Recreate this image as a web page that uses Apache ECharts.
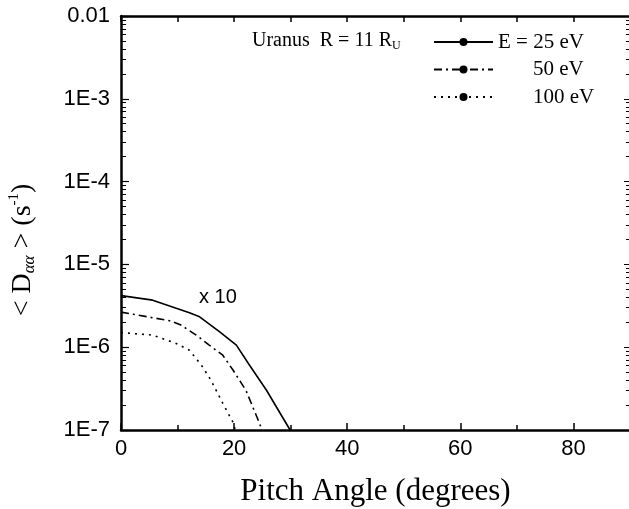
<!DOCTYPE html>
<html>
<head>
<meta charset="utf-8">
<script src="https://cdn.jsdelivr.net/npm/echarts@6/dist/echarts.min.js"></script>
<style>
  html, body { margin: 0; padding: 0; background: #fff; }
  #chart { width: 629px; height: 509px; }
</style>
</head>
<body>
<div id="chart"></div>
<script>
// pitch angle (deg) and <D_aa> (1/s)
const angles25 = [0, 5.6, 12.1, 13.9, 17.4, 20.4, 22.7, 25.7, 29.9];
const values25 = [4.2e-6, 3.7e-6, 2.6e-6, 2.33e-6, 1.54e-6, 1.06e-6, 6.1e-7, 3.04e-7, 1.0e-7];

const angles50 = [0, 8.6, 10.6, 13.3, 15.6, 18, 19.8, 22.1, 24.5, 24.9];
const values50 = [2.65e-6, 2.09e-6, 1.85e-6, 1.4e-6, 1.06e-6, 8.0e-7, 5.3e-7, 3.0e-7, 1.2e-7, 1.0e-7];

const angles100 = [0, 5.6, 9.75, 12.1, 14.2, 15.9, 18, 19.75, 20.2];
const values100 = [1.5e-6, 1.4e-6, 1.11e-6, 9.2e-7, 6.1e-7, 4.0e-7, 2.1e-7, 1.26e-7, 1.0e-7];

const seriesNames = ["E = 25 eV", "50 eV", "100 eV"];

const pairs = (xs, ys) => xs.map((x, i) => [x, ys[i]]);

const serif = "Liberation Serif";
const sans = "Liberation Sans";

const chart = echarts.init(document.getElementById("chart"));

chart.setOption({
  animation: false,
  grid: { left: 121, top: 16, width: 509, height: 414, outerBoundsMode: "none" },
  xAxis: [
    {
      type: "value",
      min: 0,
      max: 90,
      interval: 20,
      position: "bottom",
      axisLine: { onZero: false, lineStyle: { color: "#000", width: 2.5 } },
      axisTick: { inside: true, length: 7, lineStyle: { color: "#000", width: 1.5 } },
      minorTick: { show: true, splitNumber: 2, length: 5, lineStyle: { color: "#000", width: 1.5 } },
      axisLabel: { color: "#000", fontFamily: sans, fontSize: 22, margin: 8, showMaxLabel: false },
      splitLine: { show: false },
      name: "Pitch Angle (degrees)",
      nameLocation: "middle",
      nameGap: 46,
      nameTextStyle: { color: "#000", fontFamily: serif, fontSize: 31 },
    },
    {
      type: "value",
      min: 0,
      max: 90,
      interval: 10,
      position: "top",
      axisLine: { onZero: false, lineStyle: { color: "#000", width: 2.5 } },
      axisTick: { inside: true, length: 6, lineStyle: { color: "#000", width: 1.5 } },
      axisLabel: { show: false },
      splitLine: { show: false },
    },
  ],
  yAxis: [
    {
      type: "log",
      logBase: 10,
      min: 1e-7,
      max: 0.01,
      position: "left",
      splitLine: { show: false },
      axisLine: { show: true, onZero: false, lineStyle: { color: "#000", width: 2.5 } },
      axisTick: { show: true, inside: true, length: 8, lineStyle: { color: "#000", width: 1.2 } },
      minorTick: { show: true, splitNumber: 9, length: 5, lineStyle: { color: "#000", width: 1 } },
      axisLabel: {
        color: "#000",
        fontFamily: sans,
        fontSize: 22,
        margin: 11,
        formatter: (v) => (v >= 0.01 ? "0.01" : "1E" + Math.round(Math.log10(v))),
      },
      name: "{t|< D}{sub|αα}{t| > (s}{sup|-1}{t|)}",
      nameLocation: "middle",
      nameRotate: 90,
      nameGap: 83,
      nameTextStyle: {
        color: "#000",
        padding: [0, 54, 0, 0],
        rich: {
          t: { fontFamily: serif, fontSize: 28, color: "#000" },
          sub: { fontFamily: serif, fontSize: 17, fontStyle: "italic", color: "#000", verticalAlign: "bottom", padding: [14, 0, 0, 0] },
          sup: { fontFamily: serif, fontSize: 15, color: "#000", verticalAlign: "top", padding: [0, 0, 12, 0] },
        },
      },
    },
    {
      type: "log",
      logBase: 10,
      min: 1e-7,
      max: 0.01,
      position: "right",
      splitLine: { show: false },
      axisLine: { show: true, onZero: false, lineStyle: { color: "#000", width: 2.5 } },
      axisTick: { show: true, inside: true, length: 6, lineStyle: { color: "#000", width: 1 } },
      minorTick: { show: true, splitNumber: 9, length: 4, lineStyle: { color: "#000", width: 1 } },
      axisLabel: { show: false },
    },
  ],
  legend: {
    left: 433,
    top: 31,
    padding: 0,
    orient: "vertical",
    itemWidth: 59,
    itemHeight: 10,
    itemGap: 5.5,
    selectedMode: false,
    data: seriesNames,
    formatter: (n) => (n.startsWith("E") ? n : "{pad|}" + n),
    textStyle: {
      color: "#000",
      fontFamily: serif,
      fontSize: 21,
      lineHeight: 22,
      rich: { pad: { width: 35 } },
    },
  },
  graphic: [
    {
      type: "text",
      left: 199,
      top: 287,
      style: { text: "x 10", font: "20px " + sans, fill: "#000" },
    },
    {
      type: "text",
      left: 252,
      top: 31,
      style: {
        text: "{a|Uranus  R = 11 R}{s|U}",
        rich: {
          a: { fontFamily: serif, fontSize: 20, fill: "#000" },
          s: { fontFamily: serif, fontSize: 12, fill: "#000", verticalAlign: "bottom", padding: [10, 0, 0, 0] },
        },
      },
    },
  ],
  series: [
    {
      name: seriesNames[0],
      type: "line",
      data: pairs(angles25, values25),
      symbol: "circle",
      symbolSize: 2,
      showSymbol: false,
      lineStyle: { color: "#000", width: 1.6, type: "solid" },
      itemStyle: { color: "#000" },
    },
    {
      name: seriesNames[1],
      type: "line",
      data: pairs(angles50, values50),
      symbol: "circle",
      symbolSize: 2,
      showSymbol: false,
      lineStyle: { color: "#000", width: 1.6, type: [8, 4, 2, 4] },
      itemStyle: { color: "#000" },
    },
    {
      name: seriesNames[2],
      type: "line",
      data: pairs(angles100, values100),
      symbol: "circle",
      symbolSize: 2,
      showSymbol: false,
      lineStyle: { color: "#000", width: 1.6, type: [2, 5] },
      itemStyle: { color: "#000" },
    },
  ],
});
</script>
</body>
</html>
